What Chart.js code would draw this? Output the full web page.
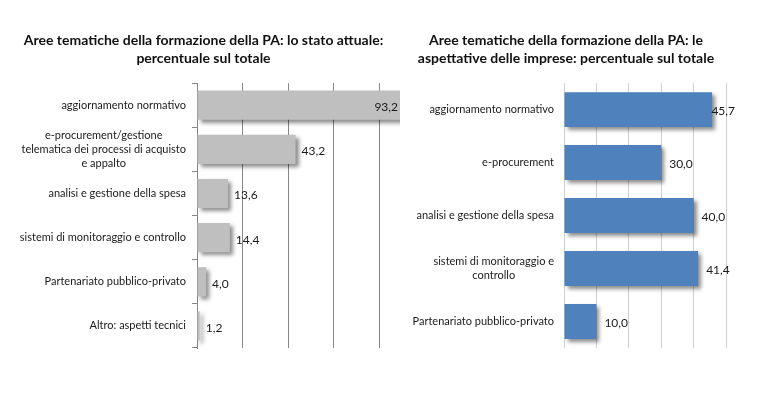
<!DOCTYPE html>
<html>
<head>
<meta charset="utf-8">
<script src="https://cdn.jsdelivr.net/npm/chart.js@4"></script>
<style>
  body { margin: 0; background: #fff; }
  #wrap { position: relative; width: 780px; height: 394px; }
  #leftChart { position: absolute; left: 0; top: 0; }
  #rightChart { position: absolute; left: 400px; top: 0; }
</style>
</head>
<body>
<div id="wrap">
  <canvas id="leftChart" width="400" height="394"></canvas>
  <canvas id="rightChart" width="380" height="394"></canvas>
</div>
<script>
const leftTitle = ["Aree tematiche della formazione della PA: lo stato attuale:", "percentuale sul totale"];
const leftCategories = [
  "aggiornamento normativo",
  ["e-procurement/gestione", "telematica dei processi di acquisto", "e appalto"],
  "analisi e gestione della spesa",
  "sistemi di monitoraggio e controllo",
  "Partenariato pubblico-privato",
  "Altro: aspetti tecnici",
];
const leftValues = [93.2, 43.2, 13.6, 14.4, 4.0, 1.2];

const rightTitle = ["Aree tematiche della formazione della PA: le", "aspettative delle imprese: percentuale sul totale"];
const rightCategories = [
  "aggiornamento normativo",
  "e-procurement",
  "analisi e gestione della spesa",
  ["sistemi di monitoraggio e", "controllo"],
  "Partenariato pubblico-privato",
];
const rightValues = [45.7, 30.0, 40.0, 41.4, 10.0];

const FONT = "Lato";

// soft drop shadow under the bars, like the office chart
const shadowPlugin = {
  id: "shadow",
  beforeDatasetsDraw(chart) {
    const ctx = chart.ctx;
    ctx.save();
    ctx.shadowColor = "rgba(0,0,0,0.45)";
    ctx.shadowBlur = 4;
    ctx.shadowOffsetX = 3;
    ctx.shadowOffsetY = 3;
  },
  afterDatasetsDraw(chart) {
    chart.ctx.restore();
  },
};

// category labels: block right aligned, lines centred inside the block
const catLabelPlugin = {
  id: "catLabels",
  afterDraw(chart, args, opts) {
    const ctx = chart.ctx;
    const yScale = chart.scales.y;
    const labels = chart.data.labels;
    ctx.save();
    ctx.font = opts.size + "px " + FONT;
    ctx.fillStyle = "#1a1a1a";
    ctx.textAlign = "center";
    ctx.textBaseline = "middle";
    labels.forEach((lab, i) => {
      const lines = Array.isArray(lab) ? lab : [lab];
      const w = Math.max(...lines.map((l) => ctx.measureText(l).width));
      const cx = opts.right - w / 2;
      const cy = yScale.getPixelForTick(i);
      lines.forEach((l, j) => {
        ctx.fillText(l, cx, cy + (j - (lines.length - 1) / 2) * opts.lineHeight);
      });
    });
    ctx.restore();
  },
};

// value labels at bar ends, with comma decimal
const valueLabelPlugin = {
  id: "valueLabels",
  afterDraw(chart, args, opts) {
    const ctx = chart.ctx;
    const meta = chart.getDatasetMeta(0);
    const values = chart.data.datasets[0].data;
    ctx.save();
    ctx.font = opts.size + "px " + FONT;
    ctx.fillStyle = "#1a1a1a";
    ctx.textAlign = "left";
    ctx.textBaseline = "middle";
    meta.data.forEach((bar, i) => {
      const txt = values[i].toFixed(1).replace(".", ",");
      const w = ctx.measureText(txt).width;
      let x = bar.x + opts.offset;
      if (x + w > opts.limit) x = opts.limit - w;
      ctx.fillText(txt, x, bar.y + 2);
    });
    ctx.restore();
  },
};

function makeChart(el, cfg) {
  return new Chart(el, {
    type: "bar",
    data: {
      labels: cfg.labels,
      datasets: [
        {
          data: cfg.values,
          backgroundColor: cfg.color,
          borderWidth: 0,
          barPercentage: 0.66,
          categoryPercentage: 1,
        },
      ],
    },
    plugins: [shadowPlugin, catLabelPlugin, valueLabelPlugin],
    options: {
      indexAxis: "y",
      responsive: false,
      animation: false,
      devicePixelRatio: 1,
      layout: {
        padding: { left: cfg.padLeft, right: cfg.padRight, top: 0, bottom: 46 },
      },
      plugins: {
        legend: { display: false },
        tooltip: { enabled: false },
        title: {
          display: true,
          text: cfg.title,
          color: "#111",
          font: { family: FONT, size: 14, weight: "bold", lineHeight: 1.29 },
          padding: { top: 31, bottom: 16 },
        },
        catLabels: { right: cfg.labelRight, size: 11, lineHeight: 14 },
        valueLabels: { offset: cfg.valueOffset, limit: cfg.valueLimit, size: 12 },
      },
      scales: {
        x: {
          min: 0,
          max: cfg.max,
          ticks: { display: false, stepSize: cfg.step, includeBounds: false },
          grid: { color: cfg.gridColor, drawTicks: false },
          border: { display: false },
        },
        y: {
          afterFit(scale) {
            scale.width = cfg.axisWidth;
          },
          ticks: { color: "rgba(0,0,0,0)", autoSkip: false },
          grid: {
            display: cfg.yTicks,
            drawOnChartArea: false,
            tickLength: 5,
            color: cfg.gridColor,
          },
          border: { display: cfg.yTicks, color: cfg.gridColor },
        },
      },
    },
  });
}

makeChart(document.getElementById("leftChart"), {
  labels: leftCategories,
  values: leftValues,
  title: leftTitle,
  color: "#bfbfbf",
  gridColor: "#868686",
  max: 89,
  step: 20,
  padLeft: 7,
  padRight: 0,
  axisWidth: 190,
  labelRight: 186,
  valueOffset: 6,
  valueLimit: 398,
  yTicks: true,
});

makeChart(document.getElementById("rightChart"), {
  labels: rightCategories,
  values: rightValues,
  title: rightTitle,
  color: "#4f81bd",
  gridColor: "#cfcfcf",
  max: 50,
  step: 10,
  padLeft: 6,
  padRight: 54,
  axisWidth: 158,
  labelRight: 154,
  valueOffset: 8,
  valueLimit: 335,
  yTicks: false,
});
</script>
</body>
</html>
